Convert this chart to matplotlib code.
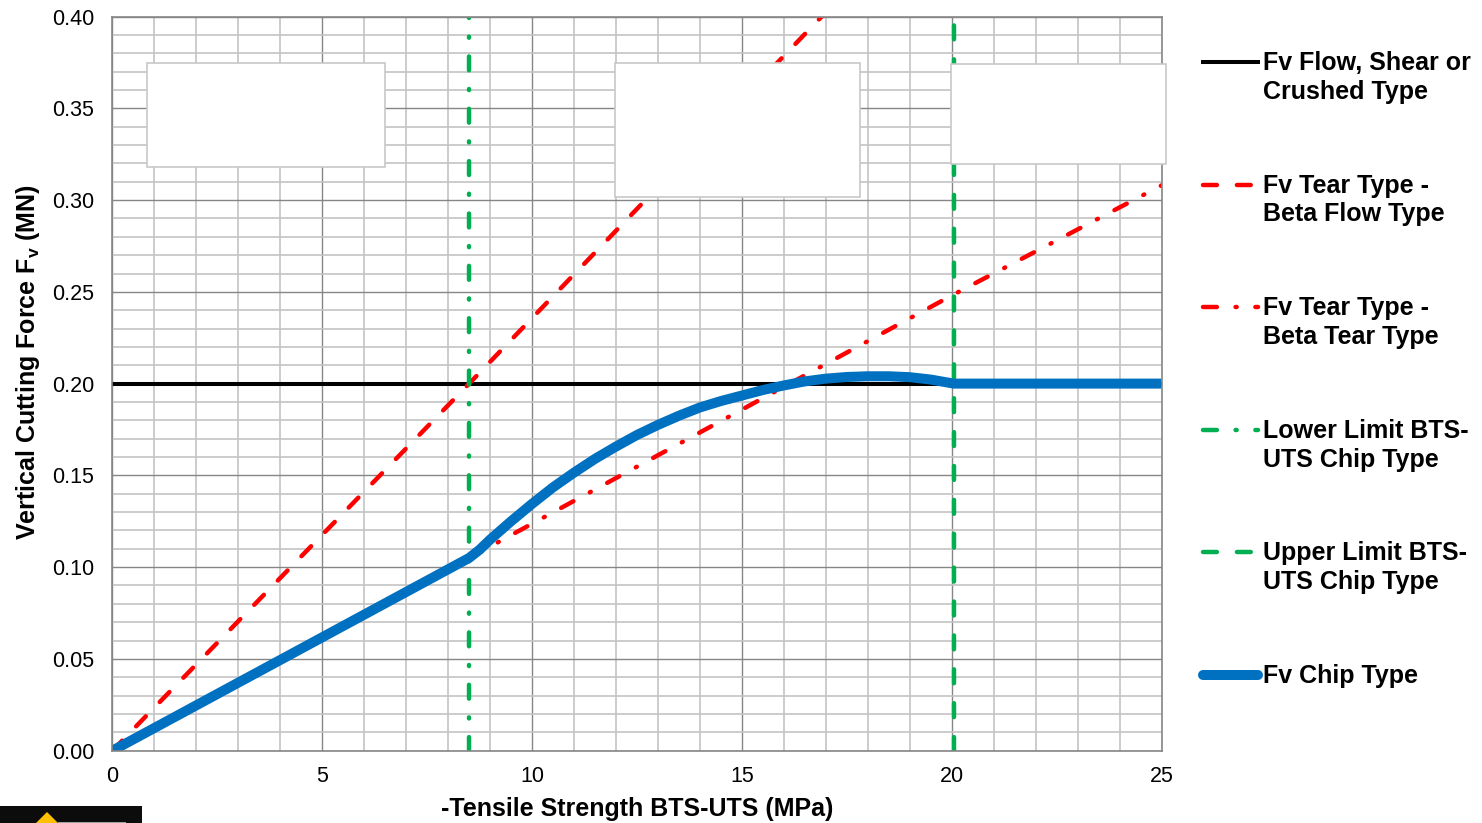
import matplotlib

matplotlib.use("Agg")
import matplotlib.pyplot as plt
from matplotlib.lines import Line2D
from matplotlib.patches import Polygon, Rectangle
from matplotlib.ticker import MultipleLocator

plt.rcParams["font.family"] = ["Liberation Sans", "DejaVu Sans"]
plt.rcParams["mathtext.fontset"] = "custom"
plt.rcParams["mathtext.bf"] = "Liberation Sans:bold"
plt.rcParams["lines.scale_dashes"] = False

W, H = 1482, 823

flow_x = [0, 25]
flow_y = [0.20, 0.20]
beta_flow_x = [0, 8.5, 16.9]
beta_flow_y = [0.0, 0.20, 0.40]
beta_tear_x = [8.5, 20, 25]
beta_tear_y = [0.105, 0.248, 0.308]
lower_x = [8.5, 8.5]
upper_x = [20.05, 20.05]
limit_y = [0.0, 0.40]
chip_x = [0, 8.5, 8.75, 9, 9.5, 10, 10.5, 11, 11.5, 12, 12.5, 13, 13.5, 14, 14.5, 15, 15.5, 16, 16.5, 17, 17.5,
          18, 18.5, 19, 19.5, 20.05, 25]
chip_y = [0.0, 0.105, 0.1095, 0.115, 0.125, 0.1345, 0.1435, 0.1515, 0.159, 0.1657, 0.172, 0.1775, 0.1825, 0.187,
          0.1905, 0.1935, 0.1965, 0.199, 0.2012, 0.2027, 0.2036, 0.204, 0.204, 0.2035, 0.2022, 0.20, 0.20]

legend_labels = [
    "Fv Flow, Shear or\nCrushed Type",
    "Fv Tear Type -\nBeta Flow Type",
    "Fv Tear Type -\nBeta Tear Type",
    "Lower Limit BTS-\nUTS Chip Type",
    "Upper Limit BTS-\nUTS Chip Type",
    "Fv Chip Type",
]

RED = "#FF0000"
GREEN = "#00B050"
BLUE = "#0070C0"
DASHED = (0, (10, 14.4))
DASH_DOT = (0, (10, 13.45, 0.8, 13.45))
styles = [
    dict(color="black", lw=2.9),
    dict(color=RED, lw=3.2, ls=DASHED, dash_capstyle="round"),
    dict(color=RED, lw=3.2, ls=DASH_DOT, dash_capstyle="round"),
    dict(color=GREEN, lw=3.2, ls=DASH_DOT, dash_capstyle="round"),
    dict(color=GREEN, lw=3.2, ls=DASHED, dash_capstyle="round"),
    dict(color=BLUE, lw=7.2, solid_capstyle="round", solid_joinstyle="round"),
]


def fx(px):
    return px / W


def fy(py):
    return 1 - py / H


fig = plt.figure(figsize=(W / 100, H / 100), dpi=100)
ax = fig.add_axes([fx(112.5), fy(750.6), 1049 / W, 734 / H])

ax.plot(flow_x, flow_y, **styles[0])
ax.plot(beta_flow_x, beta_flow_y, **styles[1])
ax.plot(beta_tear_x, beta_tear_y, **styles[2])
ax.plot(lower_x, limit_y, **styles[3])
ax.plot(upper_x, limit_y, **styles[4])
ax.plot(chip_x, chip_y, **{**styles[5], "solid_capstyle": "butt"})

ax.set_xlim(0, 25)
ax.set_ylim(0, 0.40)
ax.xaxis.set_major_locator(MultipleLocator(5))
ax.xaxis.set_minor_locator(MultipleLocator(1))
ax.yaxis.set_major_locator(MultipleLocator(0.05))
ax.yaxis.set_minor_locator(MultipleLocator(0.01))
ax.yaxis.set_major_formatter(lambda v, pos: f"{v:.2f}")
ax.set_axisbelow(True)
ax.grid(True, which="minor", color="#C4C4C4", lw=1.2)
ax.grid(True, which="major", color="#868686", lw=1.0)
ax.tick_params(which="both", length=0)
ax.tick_params(axis="x", labelsize=15.5, pad=11)
ax.tick_params(axis="y", labelsize=15.5, pad=13)
for s in ax.spines.values():
    s.set_color("#868686")
    s.set_linewidth(1.2)

fig.text(fx(637), fy(809), "-Tensile Strength BTS-UTS (MPa)", fontsize=18, fontweight="bold", ha="center", va="center")
fig.text(fx(28), fy(362), r"Vertical Cutting Force F$_{\mathbf{v}}$ (MN)", fontsize=18, fontweight="bold",
         rotation=90, ha="center", va="center")

# empty white boxes sitting over the plot
for x0, y0, x1, y1 in [(147, 63, 385, 167), (615, 63, 860, 197), (951, 64, 1166, 164)]:
    fig.add_artist(Rectangle((fx(x0), fy(y1)), (x1 - x0) / W, (y1 - y0) / H, transform=fig.transFigure,
                             facecolor="white", edgecolor="#C8C8C8", lw=1.2, zorder=5))

# legend, handle level with the first text line
for i, (label, st) in enumerate(zip(legend_labels, styles)):
    y = 62 + i * 122.5
    fig.add_artist(Line2D([fx(1203), fx(1258)], [fy(y), fy(y)], transform=fig.transFigure, **st))
    for j, line in enumerate(label.split("\n")):
        fig.text(fx(1263), fy(y + 1 + j * 29), line, fontsize=18, fontweight="bold", ha="left", va="center")

# cropped badge in the bottom left corner
fig.add_artist(Rectangle((0, 0), fx(142), (H - 806) / H, transform=fig.transFigure, facecolor="#0C0C0C", edgecolor="none"))
fig.add_artist(Polygon([(fx(47), fy(812)), (fx(36), fy(823)), (fx(58), fy(823))], transform=fig.transFigure,
                       facecolor="#FFC000", edgecolor="none"))
fig.add_artist(Rectangle((fx(58), 0), 68 / W, 1.5 / H, transform=fig.transFigure, facecolor="#A0A0A0", edgecolor="none"))

fig.savefig("out.png", dpi=100)
